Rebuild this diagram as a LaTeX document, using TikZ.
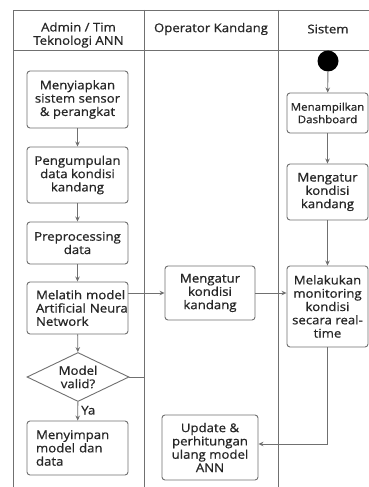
\documentclass[tikz,border=0pt]{standalone}
\usepackage{fontspec}
\setmainfont{Open Sans}[FakeStretch=1.1, FakeBold=0.7]
\usetikzlibrary{shapes.geometric,arrows.meta}
\definecolor{ln}{HTML}{707070}
\definecolor{tx}{HTML}{262626}
\begin{document}
\begin{tikzpicture}[x=1pt,y=-1pt,
  font=\fontsize{12}{13.3}\selectfont, text=tx,
  box/.style={draw=ln, rounded corners=3pt, line width=0.9pt, align=center, inner sep=2pt},
  lbox/.style={box, align=left, text width=83pt},
  arr/.style={-{Stealth[length=5pt,width=4.5pt]}, draw=ln, line width=0.9pt},
  lane/.style={draw=ln, line width=0.9pt}]
\useasboundingbox (0,0) rectangle (369,487);
\fill[white] (0,0) rectangle (369,487);
% swimlanes
\draw[lane] (13,487) -- (13,10) -- (369,10);
\draw[lane] (13,50) -- (369,50);
\draw[lane] (144,10) -- (144,487);
\draw[lane] (278,10) -- (278,487);
\node (h1) at (78.5,35) [align=center] {Admin / Tim\\Teknologi ANN};
\node (h2) at (211,29) {Operator Kandang};
\node (h3) at (328,29) {Sistem};
% left lane
\node[box, minimum width=101pt, minimum height=57pt] (a1) at (77.5,99.5) {Menyiapkan\\sistem sensor\\\& perangkat};
\node[box, minimum width=101pt, minimum height=56pt] (a2) at (77.5,175) {Pengumpulan\\data kondisi\\kandang};
\node[box, minimum width=101pt, minimum height=42pt] (a3) at (77.5,243) {Preprocessing\\data};
\node[lbox, minimum width=101pt, minimum height=52pt] (a4) at (77.5,308) {Melatih~model\\Artificial~Neura\\Network};
\node[diamond, draw=ln, line width=0.9pt, aspect=2, minimum width=102pt, minimum height=49pt, inner sep=0pt, align=center] (dia) at (78,377) {Model\\valid?};
\node[lbox, minimum width=101pt, minimum height=54pt] (a5) at (77.5,448) {Menyimpan\\model dan\\data};
\coordinate (dv) at (144,377);
% middle lane
\node[box, minimum width=90pt, minimum height=54pt] (m1) at (210,293) {Mengatur\\kondisi\\kandang};
\node[box, minimum width=96pt, minimum height=65pt] (m2) at (210,447.5) {Update \&\\perhitungan\\ulang model\\ANN};
% right lane
\node[circle, fill=black, minimum size=21pt, inner sep=0pt] (st) at (328,61) {};
\node[box, minimum width=81pt, minimum height=40pt, font=\fontsize{10.5}{12.5}\selectfont] (r1) at (327.5,113) {Menampilkan\\Dashboard};
\node[box, minimum width=81pt, minimum height=56pt] (r2) at (327.5,192) {Mengatur\\kondisi\\kandang};
\node[box, minimum width=81pt, minimum height=81pt] (r3) at (327.5,306.5) {Melakukan\\monitoring\\kondisi\\secara real-\\time};
% connectors
\draw[arr] (a1) -- (a2);
\draw[arr] (a2) -- (a3);
\draw[arr] (a3) -- (a4);
\draw[arr] (a4) -- (dia);
\draw[arr] (dia) -- node[right, pos=0.45, inner sep=3pt] (ya) {Ya} (a5);
\draw[lane] (dia.east) -- (dv);
\draw[arr] (a4.east |- m1.west) -- (m1.west);
\draw[arr] (m1) -- (m1 -| r3.west);
\draw[arr] (st) -- (r1);
\draw[arr] (r1) -- (r2);
\draw[arr] (r2) -- (r3);
\draw[arr] (r3.south) |- ([yshift=3.5pt]m2.east);
\end{tikzpicture}
\end{document}
